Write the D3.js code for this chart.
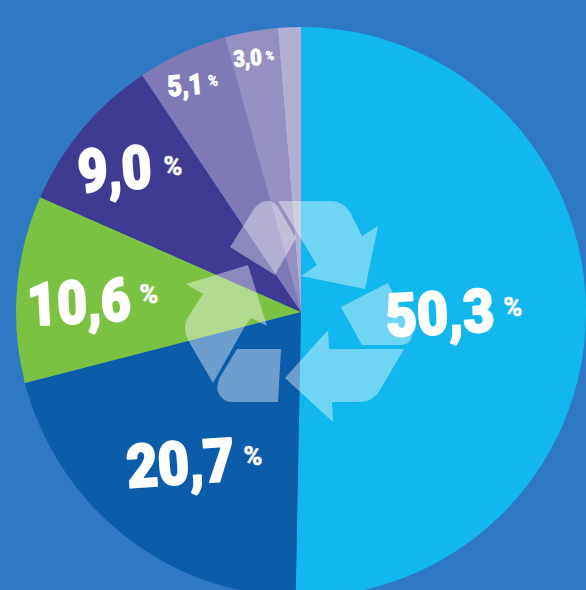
<!DOCTYPE html>
<html>
<head>
<meta charset="utf-8">
<script src="https://cdn.jsdelivr.net/npm/d3@7"></script>
<style>
  html, body { margin: 0; padding: 0; background: #2f78c4; overflow: hidden; }
  text { font-family: Roboto, sans-serif; font-weight: 900; fill: #fff; stroke: #fff; stroke-linejoin: round; }
</style>
</head>
<body>
<div id="chart"></div>
<script>
// slice values, clockwise from 12 o'clock
var values = [50.3, 20.7, 10.6, 9.0, 5.1, 3.0, 1.3];
var labels = ["50,3", "20,7", "10,6", "9,0", "5,1", "3,0", ""];
var colors = ["#12b7ee", "#0b5daa", "#7cc242", "#3f3a92", "#7f7ab5", "#9690c2", "#b3aed3"];

// label placement, same order as values
var labelX = [441, 182, 80, 116, 186, 248];
var labelY = [334, 484, 323, 190, 95, 66];
var labelSize = [60, 60, 60, 60, 29, 23];
var labelRot = [-3, -4, -3, -4, -5, -4];
var labelStretch = [0.9, 0.9, 0.86, 0.86, 0.86, 0.86];
var pctX = [513, 253, 149, 173, 213, 270];
var pctY = [316, 465, 303, 175, 86, 60];
var pctSize = [26, 26, 26, 26, 14, 12];

var width = 586, height = 590, cx = 301, cy = 312, radius = 285;

var svg = d3.select("#chart").append("svg")
  .attr("width", width)
  .attr("height", height)
  .style("display", "block");

var pie = d3.pie().sort(null).value(d => d);
var arc = d3.arc().innerRadius(0).outerRadius(radius);

svg.append("g")
  .attr("transform", "translate(" + cx + "," + cy + ")")
  .selectAll("path")
  .data(pie(values))
  .enter().append("path")
  .attr("fill", (d, i) => colors[i])
  .attr("d", arc);

// recycling symbol over the pie
var recycle = [
  // top arrow
  "M278,201 L330,201 Q343,201 350,212 L362,236 L378,226 L365,289 L301,276 L317,265 Z",
  // top left block
  "M230,247 L252,212 Q258,201 268,201 Q274,201 278,207 L296,238 L275,275 Z",
  // left arrow
  "M248,265 L186,284 L203,294 L188,317 Q182,328 188,340 L213,383 L245,326 L251,318 L267,326 Z",
  // bottom left block
  "M237,349 L281,349 L278,402 L233,402 Q222,402 218,392 Q216,386 220,377 Z",
  // bottom arrow
  "M285,378 L328,330 L329,349 L404,349 L380,390 Q373,402 360,402 L332,402 L333,422 Z",
  // right block
  "M341,307 L388,283 L410,327 Q414,336 410,341 Q407,345 400,345 L362,345 Z"
];

svg.append("g")
  .selectAll("path")
  .data(recycle)
  .enter().append("path")
  .attr("d", d => d)
  .attr("fill", "#fff")
  .attr("fill-opacity", 0.4);

// numbers
var shown = labels.slice(0, 6);

svg.append("g")
  .selectAll("text")
  .data(shown)
  .enter().append("text")
  .attr("text-anchor", "middle")
  .attr("font-size", (d, i) => labelSize[i])
  .attr("stroke-width", (d, i) => labelSize[i] / 30)
  .attr("transform", (d, i) => "translate(" + labelX[i] + "," + labelY[i] + ") rotate(" + labelRot[i] + ") scale(" + labelStretch[i] + ",1)")
  .text(d => d);

svg.append("g")
  .selectAll("text")
  .data(shown)
  .enter().append("text")
  .attr("text-anchor", "middle")
  .attr("font-size", (d, i) => pctSize[i])
  .attr("stroke-width", 0.3)
  .attr("transform", (d, i) => "translate(" + pctX[i] + "," + pctY[i] + ")")
  .text("%");
</script>
</body>
</html>
